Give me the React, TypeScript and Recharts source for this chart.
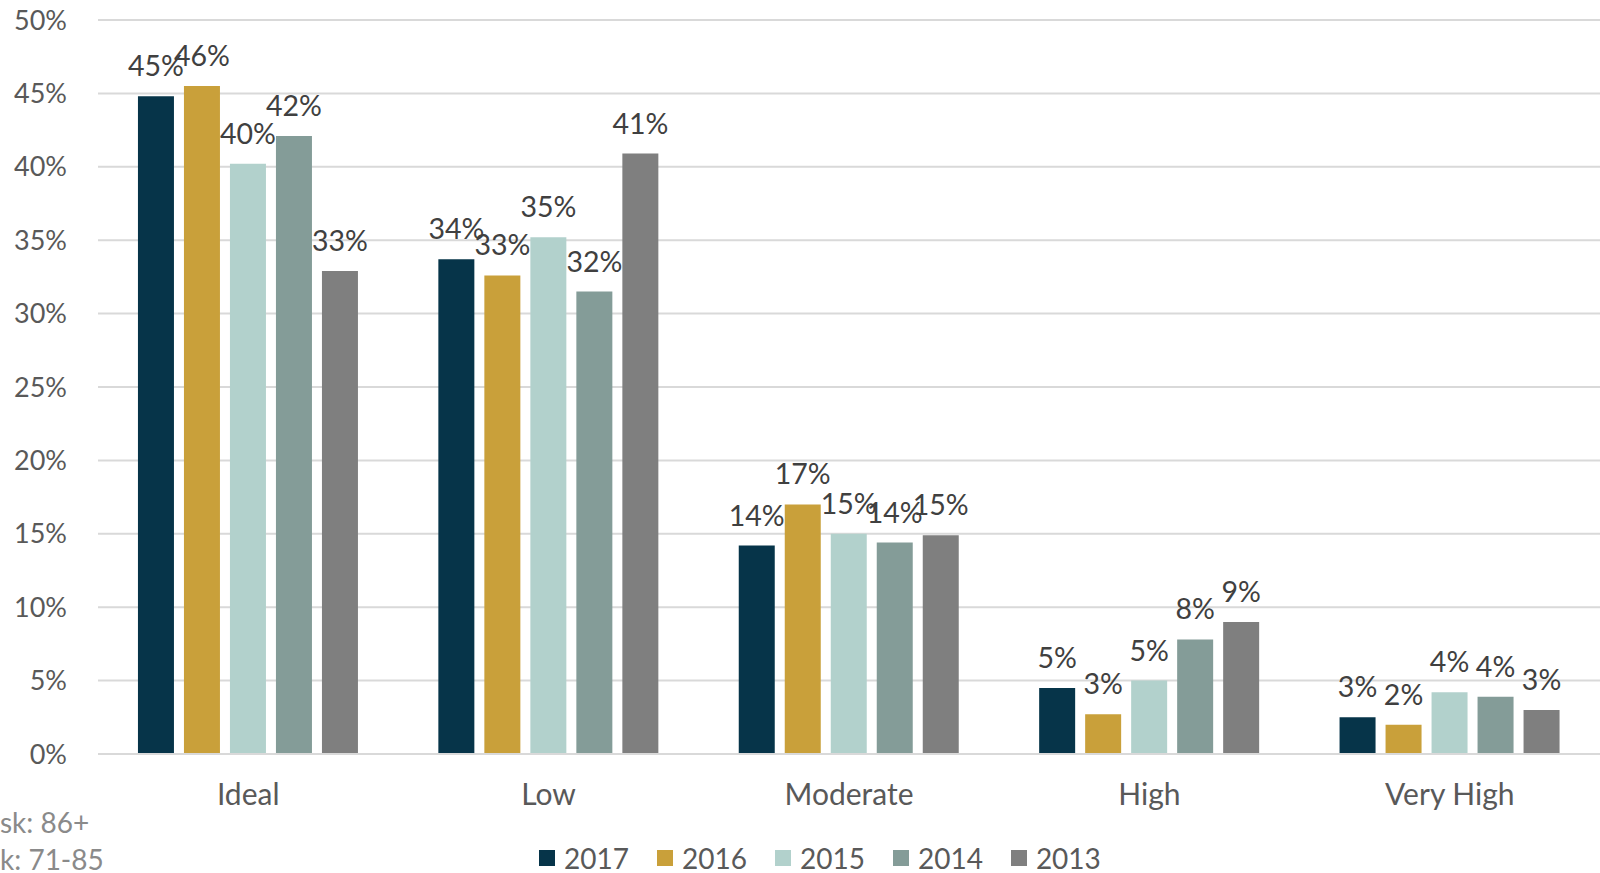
import React from "react";
import { BarChart, Bar, XAxis, YAxis, CartesianGrid, Legend, LabelList } from "recharts";

const categories = ["Ideal", "Low", "Moderate", "High", "Very High"];
const years = ["2017", "2016", "2015", "2014", "2013"];
const values2017 = [44.8, 33.7, 14.2, 4.5, 2.5];
const values2016 = [45.5, 32.6, 17.0, 2.7, 2.0];
const values2015 = [40.2, 35.2, 15.0, 5.0, 4.2];
const values2014 = [42.1, 31.5, 14.4, 7.8, 3.9];
const values2013 = [32.9, 40.9, 14.9, 9.0, 3.0];
const yTicks = [0, 5, 10, 15, 20, 25, 30, 35, 40, 45, 50];
const colors = ["#063449", "#C9A03A", "#B2D1CC", "#849C98", "#7F7F7F"];

const seriesValues = [values2017, values2016, values2015, values2014, values2013];

const data = categories.map((name, i) => {
  const row: any = { name };
  years.forEach((y, j) => {
    row[y] = seriesValues[j][i];
  });
  return row;
});

const FONT = "Lato, 'Open Sans', sans-serif";

// built from years so the order stays 2017 -> 2013
const CustomLegend = () => (
  <div style={{ display: "flex", alignItems: "center", fontFamily: FONT }}>
    {years.map((y, j) => (
      <div key={y} style={{ display: "flex", alignItems: "center", marginRight: 28 }}>
        <div style={{ width: 16, height: 16, background: colors[j], marginRight: 9 }} />
        <span style={{ fontSize: 28, color: "#595959", lineHeight: "30px" }}>{y}</span>
      </div>
    ))}
  </div>
);

const App: React.FC = () => {
  return (
    <div style={{ position: "absolute", left: 0, top: 0, width: 1600, height: 873, fontFamily: FONT }}>
      <BarChart
        width={1600}
        height={873}
        data={data}
        margin={{ top: 20, right: 0, left: 0, bottom: 89 }}
        barCategoryGap="13.3%"
        barGap={10}
      >
        <CartesianGrid vertical={false} stroke="#d9d9d9" strokeWidth={2} />
        <XAxis
          dataKey="name"
          height={30}
          axisLine={{ stroke: "#d9d9d9", strokeWidth: 2 }}
          tickLine={false}
          tickMargin={24}
          tick={{ fill: "#595959", fontSize: 30, fontFamily: FONT }}
        />
        <YAxis
          width={98}
          domain={[0, 50]}
          ticks={yTicks}
          axisLine={false}
          tickLine={false}
          tickMargin={25}
          tickFormatter={(v: number) => `${v}%`}
          tick={{ fill: "#595959", fontSize: 27, fontFamily: FONT }}
        />
        <Legend
          layout="horizontal"
          verticalAlign="middle"
          align="center"
          wrapperStyle={{ left: 539, top: 843 }}
          content={<CustomLegend />}
        />
        {years.map((y, j) => (
          <Bar key={y} dataKey={y} fill={colors[j]} isAnimationActive={false}>
            <LabelList
              dataKey={y}
              position="top"
              offset={20}
              formatter={(v: any) => `${Math.round(Number(v))}%`}
              style={{ fill: "#404040", fontSize: 28.5, fontFamily: FONT }}
            />
          </Bar>
        ))}
      </BarChart>
      <svg width={200} height={873} style={{ position: "absolute", left: 0, top: 0, pointerEvents: "none" }}>
        <text x={0} y={833} fontSize={28} fill="#8a8a8a" fontFamily={FONT}>sk: 86+</text>
        <text x={0} y={870} fontSize={28} fill="#8a8a8a" fontFamily={FONT}>k: 71-85</text>
      </svg>
    </div>
  );
};

export default App;
